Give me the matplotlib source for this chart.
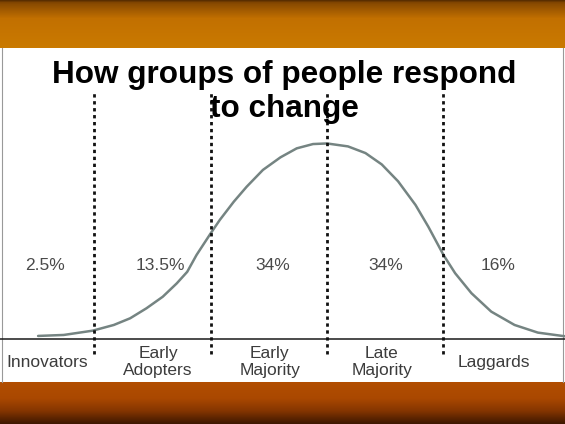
import numpy as np
import matplotlib.pyplot as plt

plt.rcParams['font.family'] = ['Liberation Sans', 'DejaVu Sans']

title_lines = ["How groups of people respond", "to change"]

# adopter groups and their share
groups = ["Innovators", "Early\nAdopters", "Early\nMajority", "Late\nMajority", "Laggards"]
shares = ["2.5%", "13.5%", "34%", "34%", "16%"]
boundaries = [-2, -1, 0, 1]   # in standard deviations

# bell curve (x in sd, height relative to peak)
curve_x = [-2.48, -2.26, -2.01, -1.83, -1.69, -1.55, -1.41, -1.29, -1.20, -1.12,
           -1.00, -0.92, -0.80, -0.69, -0.55, -0.40, -0.26, -0.12, 0.0,
           0.18, 0.33, 0.47, 0.61, 0.76, 0.87, 1.00, 1.10, 1.24, 1.41,
           1.61, 1.81, 2.02, 2.05]
curve_h = [0.018, 0.023, 0.045, 0.074, 0.108, 0.159, 0.218, 0.286, 0.345, 0.431,
           0.540, 0.610, 0.703, 0.779, 0.865, 0.929, 0.975, 0.997, 1.0,
           0.985, 0.951, 0.893, 0.807, 0.686, 0.575, 0.431, 0.338, 0.236, 0.142,
           0.074, 0.035, 0.018, 0.016]

# layout (label centres in sd units)
share_x = [-2.42, -1.43, -0.47, 0.50, 1.47]
group_x = [-2.40, -1.45, -0.49, 0.47, 1.43]
W, H = 565, 424
top_band, bottom_band = 48, 382

fig = plt.figure(figsize=(W / 100, H / 100), dpi=100)

# slide background: orange bands top and bottom
bg = fig.add_axes([0, 0, 1, 1])
rows = np.arange(H)
stops_y = [0, 2, 4, 18, 47, 48, 381, 382, 398, 410, 424]
stops_c = np.array([
    [0x5a, 0x2e, 0x00], [0x80, 0x44, 0x00], [0x8c, 0x4c, 0x00], [0xc2, 0x70, 0x00],
    [0xca, 0x7a, 0x00], [0xff, 0xff, 0xff], [0xff, 0xff, 0xff], [0xb2, 0x4e, 0x00],
    [0xaa, 0x48, 0x00], [0x86, 0x36, 0x00], [0x3a, 0x16, 0x00]]) / 255.0
grad = np.stack([np.interp(rows, stops_y, stops_c[:, i]) for i in range(3)], axis=1)
bg.imshow(grad[:, None, :], extent=[0, 1, 0, 1], aspect='auto', interpolation='bilinear')
bg.plot([0.004, 0.004], [(H - bottom_band) / H, (H - top_band) / H], color='#999999', lw=0.8)
bg.plot([0.997, 0.997], [(H - bottom_band) / H, (H - top_band) / H], color='#999999', lw=0.8)
bg.set_xlim(0, 1)
bg.set_ylim(0, 1)
bg.axis('off')

ax = fig.add_axes([0, (H - bottom_band) / H, 1, (bottom_band - top_band) / H])
ax.set_xlim(-2.807, 2.043)
ax.set_ylim(-0.217, 1.487)
ax.axis('off')

ax.plot(curve_x, curve_h, color='#758482', lw=1.8, solid_capstyle='round',
        solid_joinstyle='round', zorder=3)
ax.axhline(0, color='#1a1a1a', lw=1.1, zorder=2)
for b in boundaries:
    ax.axvline(b, ymin=0.084, ymax=0.868, color='#111111', lw=2.0,
               linestyle=(0, (1.2, 1.3)), zorder=4)

for x, s in zip(share_x, shares):
    ax.text(x, 0.375, s, ha='center', va='center', fontsize=12.5, color='#4a4a4a')
for x, g in zip(group_x, groups):
    ax.text(x, -0.115, g, ha='center', va='center', fontsize=12.5, color='#3c3c3c',
            linespacing=1.2)

fig.text(284 / W, 1 - 83 / H, title_lines[0], ha='center', va='baseline',
         fontsize=22.7, fontweight='bold', color='black')
fig.text(284 / W, 1 - 117 / H, title_lines[1], ha='center', va='baseline',
         fontsize=22.7, fontweight='bold', color='black')

fig.savefig('out.png', dpi=100)
